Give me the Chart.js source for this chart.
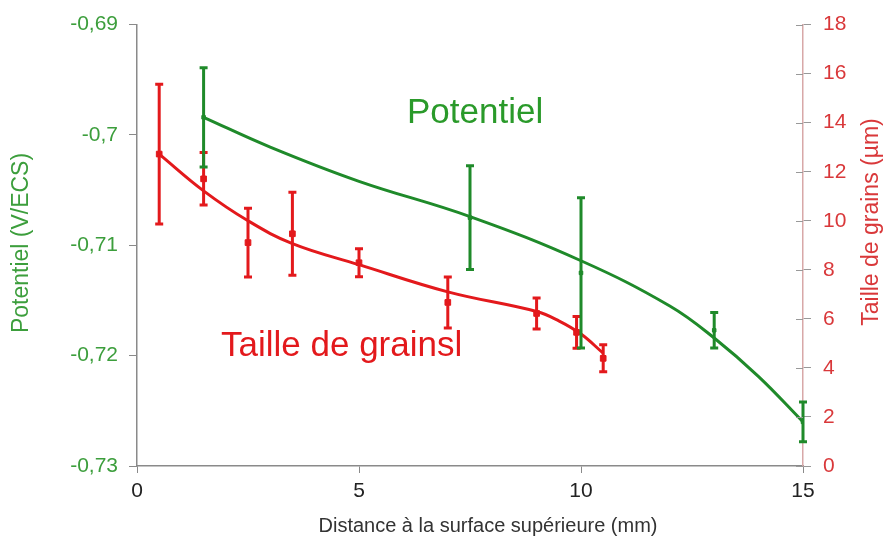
<!DOCTYPE html>
<html>
<head>
<meta charset="utf-8">
<script src="https://cdn.jsdelivr.net/npm/chart.js@4.4.1/dist/chart.umd.min.js"></script>
<style>
  html, body { margin: 0; padding: 0; background: #fff; }
  #wrap { width: 886px; height: 542px; }
</style>
</head>
<body>
<div id="wrap"><canvas id="grainChart"></canvas></div>
<script>
// potentiel (axe gauche)
var distPot = [1.5, 7.5, 10, 13, 15];
var potentiel = [-0.6984, -0.7075, -0.7125, -0.7177, -0.7260];
var errPot = [0.0045, 0.0047, 0.0068, 0.0016, 0.0018];

// taille de grains (axe droit)
var distGrain = [0.5, 1.5, 2.5, 3.5, 5, 7, 9, 9.9, 10.5];
var taille = [12.72, 11.71, 9.11, 9.47, 8.29, 6.67, 6.22, 5.45, 4.39];
var errTaille = [2.85, 1.07, 1.4, 1.69, 0.57, 1.04, 0.63, 0.65, 0.55];

// courbes de tendance
var distTrendPot = [1.5, 3, 5, 7.5, 10, 12, 13, 14, 15];
var trendPot = [-0.6984, -0.7011, -0.7042, -0.7074, -0.7114, -0.7155, -0.7184, -0.7219, -0.7260];
var distTrendTaille = [0.5, 1.5, 2.5, 3.5, 5, 7, 9, 9.5, 10, 10.5];
var trendTaille = [12.72, 11.22, 10.0, 9.07, 8.21, 7.1, 6.3, 5.92, 5.38, 4.6];

var xTicks = [0, 5, 10, 15];
var potTicks = [-0.73, -0.72, -0.71, -0.70, -0.69];
var tailleTicks = [0, 2, 4, 6, 8, 10, 12, 14, 16, 18];

var vert = '#1f8a2a';
var vertTexte = '#3c9e3c';
var rouge = '#e3191c';
var rougeTexte = '#d9383a';
var police = '"Liberation Sans", Arial, sans-serif';

function pts(xs, ys)
{
    var out = [];
    xs.forEach(function(valor, indice){
        out.push({x: valor, y: ys[indice]});
    });
    return out;
}

function virgule(v)
{
    return String(Number(v.toFixed(2))).replace('.', ',');
}

var errorBars = {
    id: 'errorBars',
    afterDatasetsDraw: function(chart){
        var ctx = chart.ctx;
        chart.data.datasets.forEach(function(ds, i){
            if (!ds.errors) return;
            var ys = chart.scales[ds.yAxisID];
            var xs = chart.scales.x;
            ctx.save();
            ctx.strokeStyle = ds.borderColor;
            ctx.lineWidth = 3;
            ds.data.forEach(function(p, k){
                var px = xs.getPixelForValue(p.x);
                var top = ys.getPixelForValue(p.y + ds.errors[k]);
                var bot = ys.getPixelForValue(p.y - ds.errors[k]);
                ctx.beginPath();
                ctx.moveTo(px, top); ctx.lineTo(px, bot);
                ctx.moveTo(px - 4, top); ctx.lineTo(px + 4, top);
                ctx.moveTo(px - 4, bot); ctx.lineTo(px + 4, bot);
                ctx.stroke();
            });
            ctx.restore();
        });
    }
};

// graduations de l'axe droit qui traversent l'axe
var tickInside = {
    id: 'tickInside',
    afterDraw: function(chart){
        var s = chart.scales.y2;
        var ctx = chart.ctx;
        ctx.save();
        ctx.strokeStyle = '#999';
        ctx.lineWidth = 1;
        s.ticks.forEach(function(t){
            var py = Math.round(s.getPixelForValue(t.value)) + 0.5;
            ctx.beginPath();
            ctx.moveTo(s.left - 7, py);
            ctx.lineTo(s.left, py);
            ctx.stroke();
        });
        ctx.restore();
    }
};

var textes = {
    id: 'textes',
    afterDraw: function(chart){
        var ctx = chart.ctx;
        ctx.save();
        ctx.textAlign = 'center';
        ctx.textBaseline = 'middle';
        ctx.font = '23px ' + police;

        ctx.fillStyle = vertTexte;
        ctx.save();
        ctx.translate(22, 243);
        ctx.rotate(-Math.PI / 2);
        ctx.fillText('Potentiel (V/ECS)', 0, 0);
        ctx.restore();

        ctx.fillStyle = rougeTexte;
        ctx.save();
        ctx.translate(872, 222);
        ctx.rotate(-Math.PI / 2);
        ctx.fillText('Taille de grains (\u00b5m)', 0, 0);
        ctx.restore();

        ctx.font = '20px ' + police;
        ctx.fillStyle = '#333';
        ctx.fillText('Distance \u00e0 la surface sup\u00e9rieure (mm)', 488, 526);

        ctx.textAlign = 'left';
        ctx.textBaseline = 'alphabetic';
        ctx.font = '35px ' + police;
        ctx.fillStyle = '#2a9a2a';
        ctx.fillText('Potentiel', 407, 123);
        ctx.fillStyle = rouge;
        ctx.fillText('Taille de grainsl', 221, 356);
        ctx.restore();
    }
};

var grainChart = new Chart('grainChart', {
    type: 'scatter',
    data: {
        datasets: [
          {
            label: 'Tendance potentiel',
            data: pts(distTrendPot, trendPot),
            yAxisID: 'y',
            showLine: true,
            borderColor: vert,
            borderWidth: 3,
            pointRadius: 0,
            tension: 0.4
          },
          {
            label: 'Tendance taille',
            data: pts(distTrendTaille, trendTaille),
            yAxisID: 'y2',
            showLine: true,
            borderColor: rouge,
            borderWidth: 3,
            pointRadius: 0,
            tension: 0.4
          },
          {
            label: 'Taille de grains',
            data: pts(distGrain, taille),
            errors: errTaille,
            yAxisID: 'y2',
            borderColor: rouge,
            backgroundColor: rouge,
            pointStyle: 'rect',
            pointRadius: 4
          },
          {
            label: 'Potentiel',
            data: pts(distPot, potentiel),
            errors: errPot,
            yAxisID: 'y',
            borderColor: vert,
            backgroundColor: vert,
            pointStyle: 'rect',
            pointRadius: 2.5
          }
        ]
    },
    options: {
        responsive: true,
        maintainAspectRatio: false,
        animation: false,
        layout: { padding: { top: 23, left: 0, right: 0, bottom: 0 } },
        plugins: {
            legend: { display: false },
            tooltip: { enabled: false }
        },
        scales: {
            x: {
                type: 'linear',
                min: 0,
                max: 15,
                afterBuildTicks: function(s){ s.ticks = xTicks.map(function(v){ return {value: v}; }); },
                afterFit: function(s){ s.height = 76; },
                border: { color: '#8a8a8a', width: 1.5 },
                grid: { drawOnChartArea: false, color: '#8a8a8a', tickLength: 7 },
                ticks: { color: '#222', font: { size: 21, family: police }, padding: 6 }
            },
            y: {
                position: 'left',
                min: -0.73,
                max: -0.69,
                afterBuildTicks: function(s){ s.ticks = potTicks.map(function(v){ return {value: v}; }); },
                afterFit: function(s){ s.width = 137; },
                border: { color: '#8a8a8a', width: 1.5 },
                grid: { drawOnChartArea: false, color: '#8a8a8a', tickLength: 8 },
                ticks: {
                    color: vertTexte,
                    font: { size: 21, family: police },
                    padding: 11,
                    callback: function(v){ return virgule(v); }
                }
            },
            y2: {
                position: 'right',
                min: 0,
                max: 18,
                afterBuildTicks: function(s){ s.ticks = tailleTicks.map(function(v){ return {value: v}; }); },
                afterFit: function(s){ s.width = 83; },
                border: { color: '#d8a8a8', width: 1.5 },
                grid: { drawOnChartArea: false, color: '#999', tickLength: 8 },
                ticks: { color: rougeTexte, font: { size: 21, family: police }, padding: 12 }
            }
        }
    },
    plugins: [errorBars, tickInside, textes]
});
</script>
</body>
</html>
